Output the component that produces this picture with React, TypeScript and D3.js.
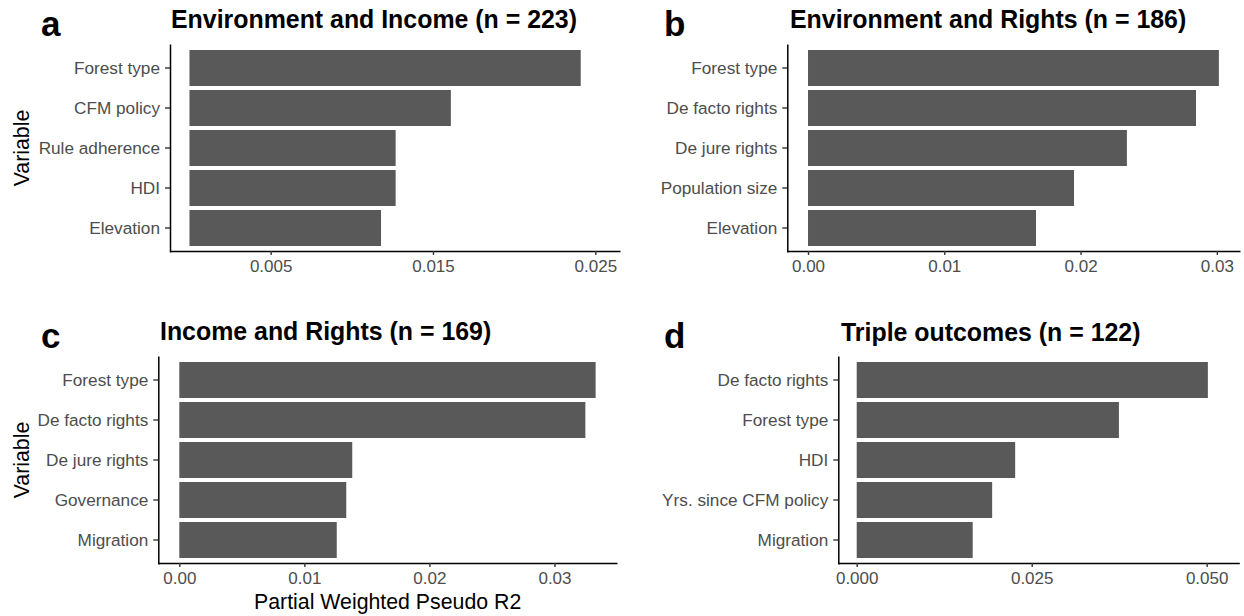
import { useEffect, useRef } from 'react'
import * as d3 from 'd3'

// Panel a: Environment and Income
const varsA = ['Forest type', 'CFM policy', 'Rule adherence', 'HDI', 'Elevation']
const valuesA = [0.0241, 0.0161, 0.0127, 0.0127, 0.0118]
const ticksA = [0.005, 0.015, 0.025]

// Panel b: Environment and Rights
const varsB = ['Forest type', 'De facto rights', 'De jure rights', 'Population size', 'Elevation']
const valuesB = [0.03015, 0.02847, 0.0234, 0.01952, 0.01673]
const ticksB = [0, 0.01, 0.02, 0.03]

// Panel c: Income and Rights
const varsC = ['Forest type', 'De facto rights', 'De jure rights', 'Governance', 'Migration']
const valuesC = [0.03329, 0.03247, 0.01383, 0.01335, 0.01259]
const ticksC = [0, 0.01, 0.02, 0.03]

// Panel d: Triple outcomes
const varsD = ['De facto rights', 'Forest type', 'HDI', 'Yrs. since CFM policy', 'Migration']
const valuesD = [0.05017, 0.03746, 0.02264, 0.01935, 0.01657]
const ticksD = [0, 0.025, 0.05]

const titles = [
  'Environment and Income (n = 223)',
  'Environment and Rights (n = 186)',
  'Income and Rights (n = 169)',
  'Triple outcomes (n = 122)',
]
const tags = ['a', 'b', 'c', 'd']

const FONT = '"Liberation Sans", Arial, Helvetica, sans-serif'

interface Panel {
  tag: string
  title: string
  vars: string[]
  values: number[]
  ticks: number[]
  fmt: string
  domain: [number, number]
  xRange: [number, number]
  yRange: [number, number]
  titleX: number
  titleY: number
  tagX: number
  tagY: number
  yTitle: boolean
  xTitle: boolean
}

export default function App() {
  const ref = useRef<SVGSVGElement>(null)

  useEffect(() => {
    if (!ref.current) return
    const svg = d3.select(ref.current)
    svg.selectAll('*').remove()

    const panels: Panel[] = [
      {
        tag: tags[0], title: titles[0], vars: varsA, values: valuesA, ticks: ticksA, fmt: '.3f',
        domain: [-0.0012, 0.02652], xRange: [170, 620], yRange: [44, 252],
        titleX: 171, titleY: 28, tagX: 41, tagY: 36, yTitle: true, xTitle: false,
      },
      {
        tag: tags[1], title: titles[1], vars: varsB, values: valuesB, ticks: ticksB, fmt: '.2f',
        domain: [-0.00152, 0.0317], xRange: [787.3, 1240], yRange: [44, 252],
        titleX: 790, titleY: 28, tagX: 664, tagY: 36, yTitle: false, xTitle: false,
      },
      {
        tag: tags[2], title: titles[2], vars: varsC, values: valuesC, ticks: ticksC, fmt: '.2f',
        domain: [-0.00168, 0.035], xRange: [158.3, 617], yRange: [356, 564],
        titleX: 160, titleY: 340, tagX: 41, tagY: 348, yTitle: true, xTitle: true,
      },
      {
        tag: tags[3], title: titles[3], vars: varsD, values: valuesD, ticks: ticksD, fmt: '.3f',
        domain: [-0.00263, 0.05466], xRange: [838.3, 1239.3], yRange: [356, 564],
        titleX: 841, titleY: 341, tagX: 664, tagY: 348, yTitle: false, xTitle: false,
      },
    ]

    panels.forEach((p) => {
      const g = svg.append('g')
      const x = d3.scaleLinear().domain(p.domain).range(p.xRange)
      const y = d3
        .scaleBand()
        .domain(p.vars)
        .range(p.yRange)
        .paddingInner(0.1)
        .paddingOuter(0.15)

      // Bars
      g.selectAll('.bar')
        .data(p.vars)
        .enter()
        .append('rect')
        .attr('x', x(0))
        .attr('y', (d) => y(d) || 0)
        .attr('width', (_d, i) => x(p.values[i]) - x(0))
        .attr('height', y.bandwidth())
        .attr('fill', '#595959')

      // Y axis
      const yAxis = g
        .append('g')
        .attr('transform', `translate(${p.xRange[0]},0)`)
        .call(d3.axisLeft(y).tickSize(5).tickSizeOuter(0).tickPadding(5))
      yAxis.select('.domain').attr('stroke', '#000').attr('stroke-width', 1.5)
      yAxis.selectAll('.tick line').attr('stroke', '#333').attr('stroke-width', 1.4)
      yAxis
        .selectAll('.tick text')
        .attr('fill', '#4d4d4d')
        .style('font-size', '17.2px')
        .style('font-family', FONT)

      // X axis
      const xAxis = g
        .append('g')
        .attr('transform', `translate(0,${p.yRange[1] - 1})`)
        .call(
          d3
            .axisBottom(x)
            .tickValues(p.ticks)
            .tickFormat(d3.format(p.fmt) as any)
            .tickSize(4)
            .tickSizeOuter(0)
            .tickPadding(5)
        )
      xAxis.select('.domain').attr('stroke', '#000').attr('stroke-width', 1.5)
      xAxis.selectAll('.tick line').attr('stroke', '#333').attr('stroke-width', 1.4)
      xAxis
        .selectAll('.tick text')
        .attr('fill', '#4d4d4d')
        .style('font-size', '17px')
        .style('font-family', FONT)

      // Title
      g.append('text')
        .attr('x', p.titleX)
        .attr('y', p.titleY)
        .text(p.title)
        .style('font-size', '24.9px')
        .style('font-weight', 'bold')
        .style('font-family', FONT)
        .attr('fill', '#000')

      // Panel tag
      g.append('text')
        .attr('x', p.tagX)
        .attr('y', p.tagY)
        .text(p.tag)
        .style('font-size', '35px')
        .style('font-weight', 'bold')
        .style('font-family', FONT)
        .attr('fill', '#000')

      if (p.yTitle) {
        const cy = (p.yRange[0] + p.yRange[1]) / 2
        g.append('text')
          .attr('transform', `translate(28.5,${cy}) rotate(-90)`)
          .attr('text-anchor', 'middle')
          .text('Variable')
          .style('font-size', '21.3px')
          .style('font-family', FONT)
          .attr('fill', '#000')
      }

      if (p.xTitle) {
        g.append('text')
          .attr('x', (p.xRange[0] + p.xRange[1]) / 2)
          .attr('y', 609)
          .attr('text-anchor', 'middle')
          .text('Partial Weighted Pseudo R2')
          .style('font-size', '21.3px')
          .style('font-family', FONT)
          .attr('fill', '#000')
      }
    })
  }, [])

  return (
    <svg
      ref={ref}
      width={1244}
      height={616}
      style={{ position: 'absolute', left: 0, top: 0, background: '#fff' }}
    />
  )
}
